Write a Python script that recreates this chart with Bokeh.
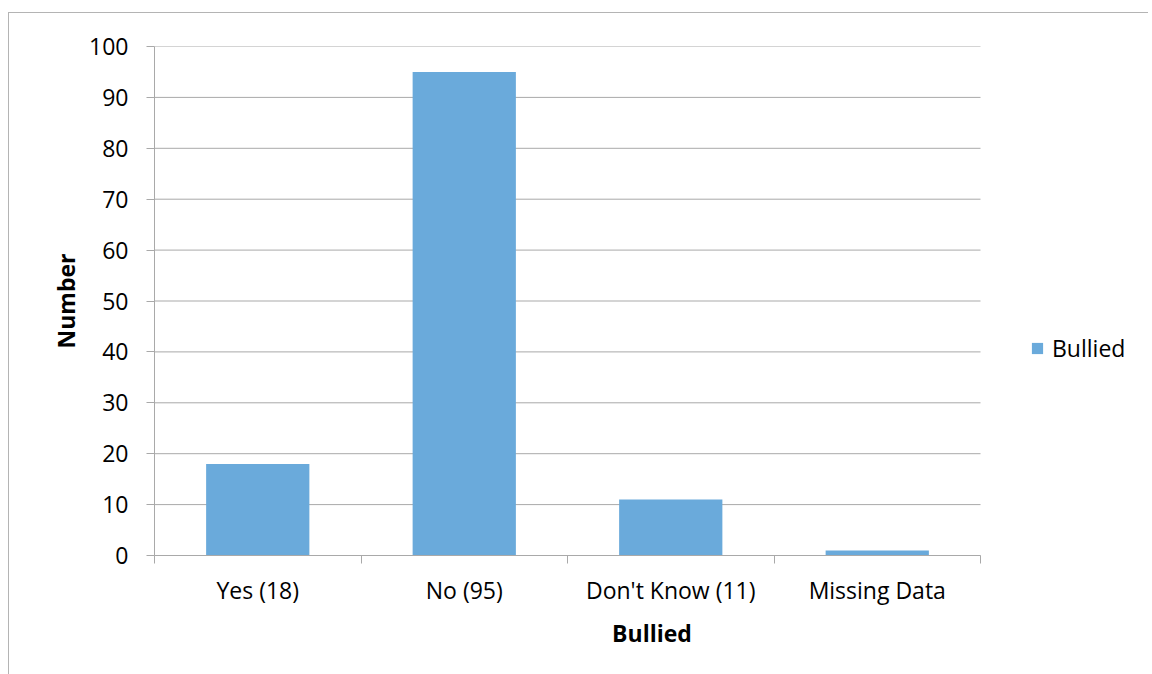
from bokeh.plotting import figure
from bokeh.models import ColumnDataSource, FixedTicker, Legend, LegendItem, Range1d
from bokeh.embed import file_html
from bokeh.resources import INLINE

categories = ["Yes (18)", "No (95)", "Don't Know (11)", "Missing Data"]
values = [18, 95, 11, 1]
series_name = "Bullied"
y_ticks = [0, 10, 20, 30, 40, 50, 60, 70, 80, 90, 100]

FONT = "Open Sans"
FS = "23px"
BAR = "#6aaadb"
GRID = "#a9a9a9"

n = len(categories)
# plot area spans n categories over 826px; the frame is extended to the right to hold the legend
PLOT_PX = 826.0
FRAME_PX = 995.0
x_end = n * FRAME_PX / PLOT_PX

xs = [i + 0.5 for i in range(n)]
src = ColumnDataSource(dict(x=xs, top=values, cat=categories))
grid_src = ColumnDataSource(dict(y=y_ticks, x0=[0] * len(y_ticks), x1=[n] * len(y_ticks)))

p = figure(width=1140, height=662, output_backend="svg", toolbar_location=None,
           x_range=Range1d(0, x_end), y_range=Range1d(0, 100),
           min_border_left=145, min_border_top=33, min_border_right=0, min_border_bottom=120,
           styles={"border-top": "1px solid #b4b4b4", "border-left": "1px solid #b4b4b4",
                   "margin-top": "12px", "margin-left": "8px"})
p.outline_line_color = None
p.background_fill_color = "white"
p.border_fill_color = "white"

# horizontal gridlines limited to the category area
p.segment(x0="x0", x1="x1", y0="y", y1="y", source=grid_src, line_color=GRID, line_width=1)

r = p.vbar(x="x", top="top", width=0.5, bottom=0, source=src, fill_color=BAR, line_color=None)

# x axis
xa = p.xaxis[0]
xa.bounds = (0, n)
xa.ticker = FixedTicker(ticks=xs, minor_ticks=list(range(n + 1)))
xa.major_label_overrides = {x: c for x, c in zip(xs, categories)}
xa.major_tick_line_color = None
xa.major_tick_out = 0
xa.major_tick_in = 0
xa.minor_tick_line_color = GRID
xa.minor_tick_out = 8
xa.minor_tick_in = 0
xa.axis_line_color = GRID
xa.major_label_text_font = FONT
xa.major_label_text_font_size = FS
xa.major_label_text_color = "black"
xa.major_label_standoff = 10
xa.axis_label = "Bullied"
xa.axis_label_text_font = FONT
xa.axis_label_text_font_size = FS
xa.axis_label_text_font_style = "bold"
xa.axis_label_text_color = "black"
xa.axis_label_standoff = 8

# y axis
ya = p.yaxis[0]
ya.ticker = FixedTicker(ticks=y_ticks)
ya.major_tick_line_color = GRID
ya.major_tick_out = 8
ya.major_tick_in = 0
ya.minor_tick_line_color = None
ya.axis_line_color = GRID
ya.major_label_text_font = FONT
ya.major_label_text_font_size = FS
ya.major_label_text_color = "black"
ya.major_label_standoff = 18
ya.axis_label = "Number"
ya.axis_label_text_font = FONT
ya.axis_label_text_font_size = FS
ya.axis_label_text_font_style = "bold"
ya.axis_label_text_color = "black"
ya.axis_label_standoff = 4

p.xgrid.grid_line_color = None
p.ygrid.grid_line_color = None

legend = Legend(items=[LegendItem(label=series_name, renderers=[r])],
                location=(876, 191), orientation="vertical")
legend.border_line_color = None
legend.background_fill_alpha = 0
legend.padding = 0
legend.margin = 0
legend.glyph_width = 14
legend.glyph_height = 14
legend.label_standoff = 8
legend.label_text_font = FONT
legend.label_text_font_size = FS
legend.label_text_color = "black"
p.add_layout(legend, "center")

open("out.html", "w").write(file_html(p, INLINE))
